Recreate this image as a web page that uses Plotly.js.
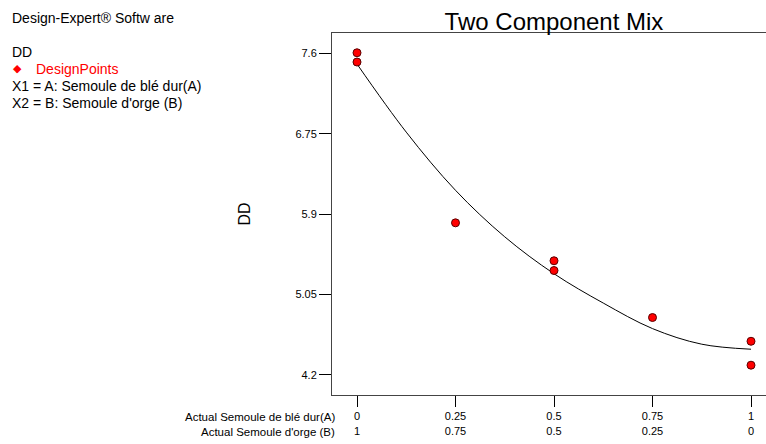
<!DOCTYPE html>
<html>
<head>
<meta charset="utf-8">
<script src="https://cdn.plot.ly/plotly-3.0.1.min.js"></script>
<style>
html,body{margin:0;padding:0;background:#fff;}
#chart{width:766px;height:444px;}
</style>
</head>
<body>
<div id="chart"></div>
<script>
// Design points (A = Semoule de blé dur fraction)
const pointA = [0, 0, 0.25, 0.5, 0.5, 0.75, 1, 1];
const pointDD = [7.606, 7.508, 5.808, 5.407, 5.304, 4.807, 4.556, 4.303];

// Fitted model curve
const fitA = [0, 0.125, 0.25, 0.375, 0.5, 0.625, 0.75, 0.875, 1];
const fitDD = [7.487, 6.767, 6.152, 5.66, 5.27, 4.96, 4.69, 4.525, 4.472];

// Axis ticks
const tickA = [0, 0.25, 0.5, 0.75, 1];
const tickLabelA = ['0', '0.25', '0.5', '0.75', '1'];
const tickLabelB = ['1', '0.75', '0.5', '0.25', '0'];
const tickDD = [4.2, 5.05, 5.9, 6.75, 7.6];
const tickLabelDD = ['4.2', '5.05', '5.9', '6.75', '7.6'];

// Text
const titleText = 'Two Component Mix';
const yTitle = 'DD';
const rowLabelA = 'Actual Semoule de blé dur(A)';
const rowLabelB = "Actual Semoule d'orge (B)";
const infoLines = ['Design-Expert® Softw are', 'DD', 'DesignPoints', 'X1 = A: Semoule de blé dur(A)', "X2 = B: Semoule d'orge (B)"];

const W = 766, H = 444;
const L = 332, R = 0, T = 33, B = 49;
const pw = W - L - R, ph = H - T - B;
const px = v => (v - L) / pw;
const py = v => (H - B - v) / ph;

const font = 'Liberation Sans, Arial, sans-serif';

const traces = [
  {
    x: fitA, y: fitDD, type: 'scatter', mode: 'lines',
    line: {color: '#000', width: 1, shape: 'spline', smoothing: 1},
    hoverinfo: 'skip', showlegend: false
  },
  {
    x: pointA, y: pointDD, type: 'scatter', mode: 'markers',
    marker: {color: '#ff0000', size: 8, line: {color: '#5a0000', width: 1}},
    showlegend: false
  }
];

const infoY = [18.5, 52, 68.5, 85.5, 102.5];
const annotations = [];
infoLines.forEach((t, i) => {
  annotations.push({
    xref: 'paper', yref: 'paper', x: px(i === 2 ? 34 : 10), y: py(infoY[i]),
    xanchor: 'left', yanchor: 'middle', showarrow: false, text: t,
    font: {family: font, size: 14, color: i === 2 ? '#ff0000' : '#000'}
  });
});
annotations.push({
  xref: 'paper', yref: 'paper', x: px(17), y: py(68), xanchor: 'center', yanchor: 'middle',
  showarrow: false, text: '◆', font: {family: 'DejaVu Sans', size: 11, color: '#ff0000'}
});
annotations.push({
  xref: 'paper', yref: 'paper', x: px(337), y: py(416.5), xanchor: 'right', yanchor: 'middle',
  showarrow: false, text: rowLabelA, font: {family: font, size: 11.5, color: '#000'}
});
annotations.push({
  xref: 'paper', yref: 'paper', x: px(337), y: py(431.5), xanchor: 'right', yanchor: 'middle',
  showarrow: false, text: rowLabelB, font: {family: font, size: 11.5, color: '#000'}
});

const layout = {
  width: W, height: H,
  margin: {l: L, r: R, t: T, b: B, pad: 0},
  paper_bgcolor: '#fff', plot_bgcolor: '#fff',
  font: {family: font, color: '#000'},
  title: {
    text: titleText, font: {family: font, size: 24, color: '#000'},
    x: px(554), xref: 'paper', xanchor: 'center', y: 1 - 22 / H, yanchor: 'middle'
  },
  xaxis: {
    range: [-25 / 394, 1 + 15 / 394],
    tickvals: tickA,
    ticktext: tickA.map((v, i) => tickLabelA[i] + '<br>' + tickLabelB[i]),
    ticks: 'outside', ticklen: 11, tickcolor: '#000', tickwidth: 1,
    tickfont: {family: font, size: 11, color: '#000'},
    showline: true, linecolor: '#444', linewidth: 1, mirror: true,
    showgrid: false, zeroline: false, fixedrange: true
  },
  yaxis: {
    range: [3.988, 7.815],
    tickvals: tickDD, ticktext: tickLabelDD,
    ticks: 'outside', ticklen: 12, tickcolor: '#000', tickwidth: 1,
    tickfont: {family: font, size: 11, color: '#000'},
    showline: true, linecolor: '#444', linewidth: 1, mirror: false,
    showgrid: false, zeroline: false, fixedrange: true,
    title: {text: yTitle, font: {family: font, size: 16, color: '#000'}, standoff: 40}
  },
  annotations: annotations,
  showlegend: false
};

Plotly.newPlot('chart', traces, layout, {displayModeBar: false, staticPlot: true});
</script>
</body>
</html>
